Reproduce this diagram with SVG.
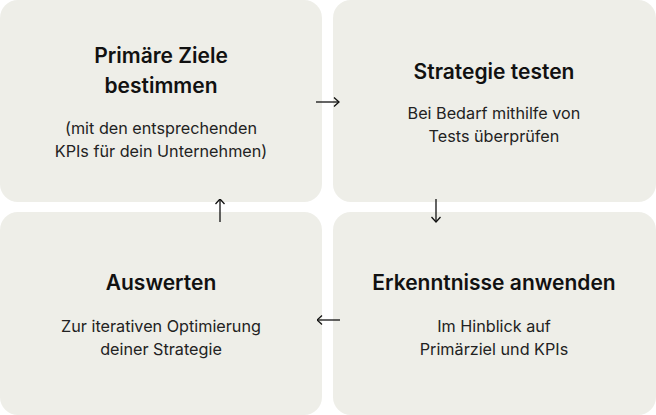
<svg xmlns="http://www.w3.org/2000/svg" width="656" height="415" viewBox="0 0 656 415">
<style>
.box{fill:#eeeee8}
.t{font-family:Inter,"Liberation Sans",sans-serif;font-weight:600;font-size:21px;fill:#111;text-anchor:middle}
.b{font-family:Inter,"Liberation Sans",sans-serif;font-weight:400;font-size:16.2px;fill:#222;text-anchor:middle}
.c{stroke:#111;stroke-width:1.3;fill:none}
</style>
<defs>
<marker id="ah" viewBox="0 0 10 10" refX="9.5" refY="5" markerWidth="10" markerHeight="10" markerUnits="userSpaceOnUse" orient="auto"><path d="M4.5,0.5 L9.5,5 L4.5,9.5" fill="none" stroke="#111" stroke-width="1.3"/></marker>
</defs>
<rect width="656" height="415" fill="#fff"/>
<g id="node-ziele">
<rect class="box" x="0" y="0" width="322" height="202" rx="18"/>
<text class="t" x="161" y="63">Primäre Ziele</text>
<text class="t" x="161" y="93">bestimmen</text>
<text class="b" x="161" y="134">(mit den entsprechenden</text>
<text class="b" x="161" y="157">KPIs für dein Unternehmen)</text>
</g>
<g id="node-testen">
<rect class="box" x="333" y="0" width="323" height="202" rx="18"/>
<text class="t" x="494" y="79">Strategie testen</text>
<text class="b" x="494" y="119">Bei Bedarf mithilfe von</text>
<text class="b" x="494" y="142">Tests überprüfen</text>
</g>
<g id="node-anwenden">
<rect class="box" x="333" y="212" width="323" height="203" rx="18"/>
<text class="t" x="494" y="290">Erkenntnisse anwenden</text>
<text class="b" x="494" y="332">Im Hinblick auf</text>
<text class="b" x="494" y="355">Primärziel und KPIs</text>
</g>
<g id="node-auswerten">
<rect class="box" x="0" y="212" width="322" height="203" rx="18"/>
<text class="t" x="161" y="290">Auswerten</text>
<text class="b" x="161" y="332">Zur iterativen Optimierung</text>
<text class="b" x="161" y="355">deiner Strategie</text>
</g>
<g id="connectors">
<line class="c" x1="316" y1="102" x2="339" y2="102" marker-end="url(#ah)"/>
<line class="c" x1="436" y1="199" x2="436" y2="222" marker-end="url(#ah)"/>
<line class="c" x1="340" y1="320" x2="317" y2="320" marker-end="url(#ah)"/>
<line class="c" x1="220" y1="222" x2="220" y2="199" marker-end="url(#ah)"/>
</g>
</svg>
